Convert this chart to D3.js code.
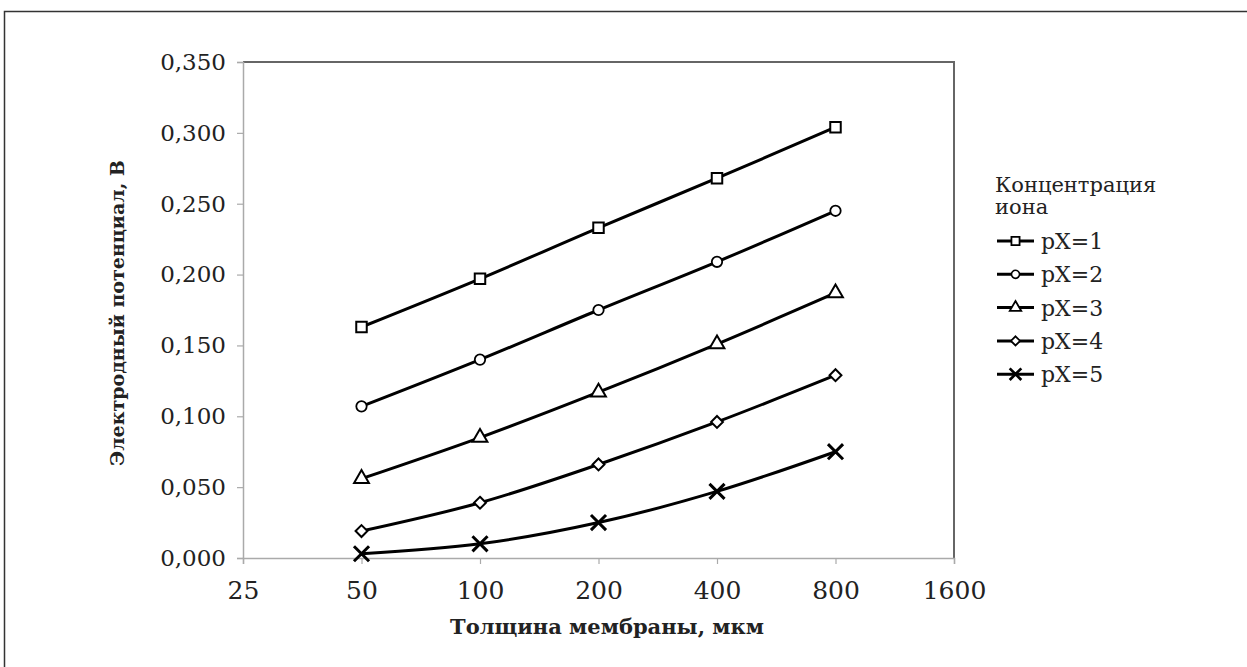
<!DOCTYPE html>
<html>
<head>
<meta charset="utf-8">
<script src="https://cdn.jsdelivr.net/npm/d3@7"></script>
<style>
  body { margin: 0; background: #fff; }
  svg { display: block; }
  text { font-family: "DejaVu Serif", "Liberation Serif", serif; fill: #222; }
</style>
</head>
<body>
<div id="app"></div>
<script>
// толщина мембраны, мкм
const thickness = [50, 100, 200, 400, 800];
const seriesNames = ['pX=1', 'pX=2', 'pX=3', 'pX=4', 'pX=5'];
// электродный потенциал, В
const px1 = [0.163, 0.197, 0.233, 0.268, 0.304];
const px2 = [0.107, 0.140, 0.175, 0.209, 0.245];
const px3 = [0.056, 0.085, 0.117, 0.151, 0.187];
const px4 = [0.019, 0.039, 0.066, 0.096, 0.129];
const px5 = [0.003, 0.010, 0.025, 0.047, 0.075];
const xTickValues = [25, 50, 100, 200, 400, 800, 1600];
const yTickValues = [0, 0.05, 0.1, 0.15, 0.2, 0.25, 0.3, 0.35];

const width = 1247;
const height = 667;
const pLeft = 243, pRight = 954, pTop = 62, pBottom = 558;

const svg = d3.select('#app')
  .append('svg')
  .attr('width', width)
  .attr('height', height);

// outer frame
svg.append('path')
  .attr('d', `M4.5,${height} V11.5 H${width}`)
  .attr('fill', 'none')
  .attr('stroke', '#333')
  .attr('stroke-width', 1.5);

const x = d3.scaleLog().base(2)
  .domain([25, 1600])
  .range([pLeft, pRight]);

const y = d3.scaleLinear()
  .domain([0, 0.35])
  .range([pBottom, pTop]);

// plot area border (top, right darker)
svg.append('path')
  .attr('d', `M${pLeft},${pTop} H${pRight} V${pBottom}`)
  .attr('fill', 'none')
  .attr('stroke', '#666')
  .attr('stroke-width', 2);

const fmt = d => d3.format('.3f')(d).replace('.', ',');

const axisY = d3.axisLeft(y)
  .tickValues(yTickValues)
  .tickFormat(fmt)
  .tickSize(6)
  .tickPadding(11);
const gy = svg.append('g')
  .attr('transform', `translate(${pLeft},0)`)
  .call(axisY);
gy.select('.domain').attr('stroke', '#aaa').attr('stroke-width', 1.5);
gy.selectAll('.tick line').attr('stroke', '#aaa').attr('stroke-width', 1.2);
gy.selectAll('.tick text')
  .attr('font-family', '"DejaVu Serif", serif')
  .attr('font-size', 23)
  .attr('fill', '#222');

const axisX = d3.axisBottom(x)
  .tickValues(xTickValues)
  .tickFormat(d => d)
  .tickSize(6)
  .tickPadding(17);
const gx = svg.append('g')
  .attr('transform', `translate(0,${pBottom})`)
  .call(axisX);
gx.select('.domain').attr('stroke', '#aaa').attr('stroke-width', 1.5);
gx.selectAll('.tick line').attr('stroke', '#aaa').attr('stroke-width', 1.2);
gx.selectAll('.tick text')
  .attr('font-family', '"DejaVu Serif", serif')
  .attr('font-size', 25)
  .attr('fill', '#222');

// axis titles
svg.append('text')
  .attr('x', 607)
  .attr('y', 634)
  .attr('text-anchor', 'middle')
  .attr('font-size', 21)
  .attr('font-weight', 'bold')
  .text('Толщина мембраны, мкм');

svg.append('text')
  .attr('transform', `translate(124,${(pTop + pBottom) / 2 + 3}) rotate(-90)`)
  .attr('text-anchor', 'middle')
  .attr('font-size', 19)
  .attr('font-weight', 'bold')
  .text('Электродный потенциал, В');

// series
const allSeries = [px1, px2, px3, px4, px5];
const markers = [
  { type: d3.symbolSquare, size: 110, fill: '#fff', sw: 2 },
  { type: d3.symbolCircle, size: 85, fill: '#fff', sw: 1.8 },
  { type: d3.symbolTriangle, size: 95, fill: '#fff', sw: 2 },
  { type: d3.symbolDiamond2, size: 90, fill: '#fff', sw: 2 },
  { type: d3.symbolTimes, size: 150, fill: 'none', sw: 3 }
];

const line = d3.line()
  .x(d => x(d[0]))
  .y(d => y(d[1]))
  .curve(d3.curveCatmullRom);

allSeries.forEach((vals, i) => {
  const pts = thickness.map((t, j) => [t, vals[j]]);
  svg.append('path')
    .attr('d', line(pts))
    .attr('fill', 'none')
    .attr('stroke', '#000')
    .attr('stroke-width', 3);

  const m = markers[i];
  svg.append('g').selectAll('path')
    .data(pts)
    .enter()
    .append('path')
    .attr('transform', d => `translate(${x(d[0])},${y(d[1])})`)
    .attr('d', d3.symbol().type(m.type).size(m.size))
    .attr('fill', m.fill)
    .attr('stroke', '#000')
    .attr('stroke-width', m.sw);
});

// legend
const lg = svg.append('g');
lg.append('text')
  .attr('x', 995).attr('y', 192)
  .attr('font-size', 21)
  .text('Концентрация');
lg.append('text')
  .attr('x', 995).attr('y', 214)
  .attr('font-size', 21)
  .text('иона');

seriesNames.forEach((name, i) => {
  const ly = 241 + i * 33.3;
  lg.append('line')
    .attr('x1', 997).attr('x2', 1034)
    .attr('y1', ly).attr('y2', ly)
    .attr('stroke', '#000')
    .attr('stroke-width', 3);
  const m = markers[i];
  lg.append('path')
    .attr('transform', `translate(1015.5,${ly})`)
    .attr('d', d3.symbol().type(m.type).size(m.size * 0.6))
    .attr('fill', m.fill)
    .attr('stroke', '#000')
    .attr('stroke-width', m.sw * 0.9);
  lg.append('text')
    .attr('x', 1041).attr('y', ly + 8)
    .attr('font-size', 22)
    .text(name);
});
</script>
</body>
</html>
